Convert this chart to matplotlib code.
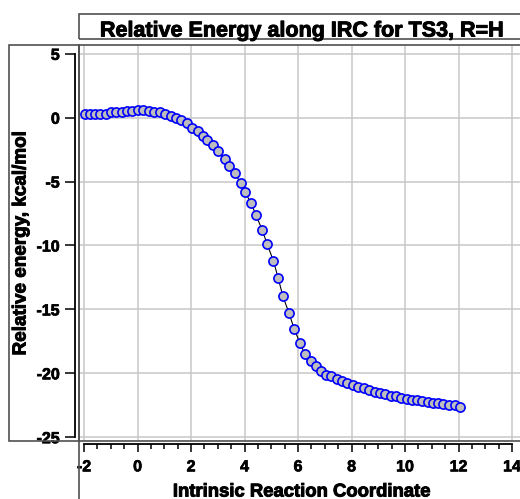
import numpy as np
import matplotlib
matplotlib.use("Agg")
import matplotlib.pyplot as plt
import matplotlib.patheffects as pe
from matplotlib.patches import Rectangle
from matplotlib.lines import Line2D
from matplotlib.ticker import MultipleLocator

# IRC points
irc = [-1.97, -1.78, -1.60, -1.41, -1.19, -1.00, -0.80, -0.58, -0.39, -0.19,
       0.00, 0.19, 0.42, 0.62, 0.82, 1.02, 1.24, 1.43, 1.62, 1.84,
       2.02, 2.24, 2.43, 2.60, 2.81, 3.01, 3.25, 3.42, 3.63, 3.85,
       4.02, 4.25, 4.43, 4.66, 4.84, 5.08, 5.26, 5.43, 5.66, 5.85,
       6.07, 6.25, 6.48, 6.66, 6.85, 7.03, 7.24, 7.45, 7.65, 7.84,
       8.05, 8.25, 8.46, 8.66, 8.86, 9.06, 9.26, 9.47, 9.66, 9.85,
       10.06, 10.25, 10.44, 10.64, 10.84, 11.05, 11.24, 11.42, 11.65, 11.85,
       12.06]
energy = [0.29, 0.29, 0.29, 0.29, 0.31, 0.42, 0.44, 0.44, 0.55, 0.55,
          0.57, 0.57, 0.55, 0.42, 0.42, 0.31, 0.16, -0.03, -0.18, -0.42,
          -0.81, -1.02, -1.41, -1.75, -2.17, -2.61, -3.24, -3.76, -4.33, -5.10,
          -5.85, -6.71, -7.65, -8.79, -9.87, -11.22, -12.58, -13.96, -15.29, -16.50,
          -17.64, -18.48, -19.06, -19.46, -19.80, -20.10, -20.23, -20.41, -20.60, -20.73,
          -20.91, -21.04, -21.17, -21.30, -21.43, -21.53, -21.64, -21.80, -21.77, -21.90,
          -22.00, -22.08, -22.08, -22.19, -22.26, -22.29, -22.34, -22.40, -22.47, -22.50,
          -22.66]

title = "Relative Energy along IRC for TS3, R=H"
xlabel = "Intrinsic Reaction Coordinate"
ylabel = "Relative energy, kcal/mol"

W, H = 520, 499
plt.rcParams['font.family'] = ['Liberation Sans', 'DejaVu Sans']
plt.rcParams['axes.unicode_minus'] = False
fig = plt.figure(figsize=(W / 100, H / 100), dpi=100)

def fx(px):
    return px / W

def fy(py):
    return 1 - py / H

box_col = '#505050'
heavy = [pe.withStroke(linewidth=0.7, foreground='black')]

# plot area, runs past the right edge like the original
left, top, bottom = 79, 44.5, 441
xmin, xmax = -2.19, 14.5
width = (xmax - xmin) * 26.75
ax = fig.add_axes([fx(left), fy(bottom), width / W, (bottom - top) / H])
ax.set_xlim(xmin, xmax)
ax.set_ylim(-25.3, 5.73)

ax.grid(True, color='#c8c8c8', linewidth=1.1)
ax.set_axisbelow(True)
ax.xaxis.set_major_locator(MultipleLocator(2))
ax.xaxis.set_minor_locator(MultipleLocator(0.5))
ax.yaxis.set_major_locator(MultipleLocator(5))

ax.plot(irc, energy, color='black', linewidth=0.8, marker='o', markersize=6.6,
        markerfacecolor='#bdbdbd', markeredgecolor='#0000ff', markeredgewidth=1.2)

# detached axes, Igor style
for s in ['top', 'right']:
    ax.spines[s].set_visible(False)
ax.spines['left'].set_position(('outward', 2.6))
ax.spines['left'].set_bounds(-25, 5)
ax.spines['bottom'].set_position(('outward', 2.2))
ax.spines['bottom'].set_bounds(-2, 14)
for s in ['left', 'bottom']:
    ax.spines[s].set_color('black')
    ax.spines[s].set_linewidth(1.3)

ax.set_xticks(np.arange(-2, 15, 2))
ax.set_yticks(np.arange(-25, 6, 5))
ax.tick_params(axis='both', which='major', direction='out', width=1.1,
               labelsize=11.5, colors='black')
ax.tick_params(axis='y', which='major', length=7.2, pad=4)
ax.tick_params(axis='x', which='major', length=6, pad=5)
ax.tick_params(axis='x', which='minor', direction='out', length=3.5, width=1.1)
for lab in ax.get_xticklabels() + ax.get_yticklabels():
    lab.set_fontweight('bold')
    lab.set_path_effects([pe.withStroke(linewidth=0.5, foreground='black')])

# frame around plot area
ax.add_patch(Rectangle((0, 0), 1, 1, transform=ax.transAxes, fill=False,
                       edgecolor=box_col, linewidth=1.2, clip_on=False, zorder=5))

# box around the y axis
fig.patches.append(Rectangle((fx(9), fy(441)), fx(79) - fx(9), fy(45) - fy(441),
                             transform=fig.transFigure, fill=False,
                             edgecolor=box_col, linewidth=1.2))
# left edge of the x axis box
fig.lines.append(Line2D([fx(79), fx(79)], [fy(441), fy(499)],
                        transform=fig.transFigure, color=box_col, linewidth=1.2))
# title box
fig.patches.append(Rectangle((fx(79), fy(39)), fx(540) - fx(79), fy(14) - fy(39),
                             transform=fig.transFigure, fill=False,
                             edgecolor=box_col, linewidth=1.2))

fig.text(fx(301.5), fy(36.5), title, ha='center', va='baseline',
         fontsize=15.5, fontweight='bold', path_effects=heavy)
fig.text(fx(301.5), fy(496.5), xlabel, ha='center', va='baseline',
         fontsize=13.3, fontweight='bold', path_effects=heavy)
fig.text(fx(21), fy(243), ylabel, ha='center', va='center', rotation=90,
         fontsize=13.6, fontweight='bold', path_effects=heavy)

fig.savefig('out.png', dpi=100)
